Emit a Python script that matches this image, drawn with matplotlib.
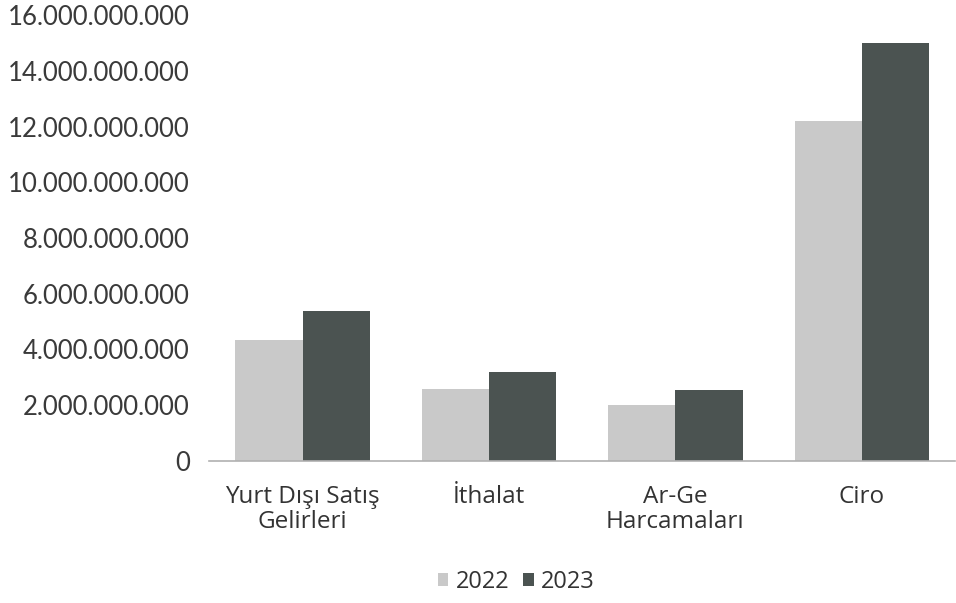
import numpy as np
import matplotlib.pyplot as plt
from matplotlib.ticker import FuncFormatter

categories = ["Yurt Dışı Satış\nGelirleri", "İthalat", "Ar-Ge\nHarcamaları", "Ciro"]
values_2022 = [4.33e9, 2.6e9, 2.0e9, 12.2e9]
values_2023 = [5.38e9, 3.2e9, 2.55e9, 15.0e9]
y_ticks = [0, 2e9, 4e9, 6e9, 8e9, 10e9, 12e9, 14e9, 16e9]

color_2022 = "#c9c9c9"
color_2023 = "#4b5351"

fig = plt.figure(figsize=(9.56, 6.03), dpi=100)
ax = fig.add_axes([0.219, 0.2355, 0.78, 0.7396])

x = np.arange(len(categories))
w = 0.36
ax.bar(x - w / 2, values_2022, w, color=color_2022, label="2022")
ax.bar(x + w / 2, values_2023, w, color=color_2023, label="2023")

ax.set_xlim(-0.5, 3.5)
ax.set_ylim(0, 16e9)
ax.set_yticks(y_ticks)
ax.yaxis.set_major_formatter(FuncFormatter(lambda v, p: f"{int(v):,}".replace(",", ".")))

for s in ["top", "right", "left"]:
    ax.spines[s].set_visible(False)
ax.spines["bottom"].set_color("#b0b0b0")
ax.spines["bottom"].set_linewidth(1.2)

ax.tick_params(axis="y", length=0, pad=14, labelsize=18.5, labelcolor="#3a3a3a")
ax.tick_params(axis="x", length=0, pad=17, labelsize=17.5, labelcolor="#333333")
for t in ax.get_yticklabels():
    t.set_fontfamily("Lato")
ax.set_xticks(x)
ax.set_xticklabels(categories, fontfamily="Open Sans", linespacing=1.05)

leg = fig.legend(loc="center", bbox_to_anchor=(0.54, 0.035), ncol=2, frameon=False,
                 prop={"family": "Open Sans", "size": 17}, handlelength=0.45,
                 handleheight=0.45, handletextpad=0.3, columnspacing=0.6)
for t in leg.get_texts():
    t.set_color("#333333")

fig.savefig("out.png", dpi=100)
